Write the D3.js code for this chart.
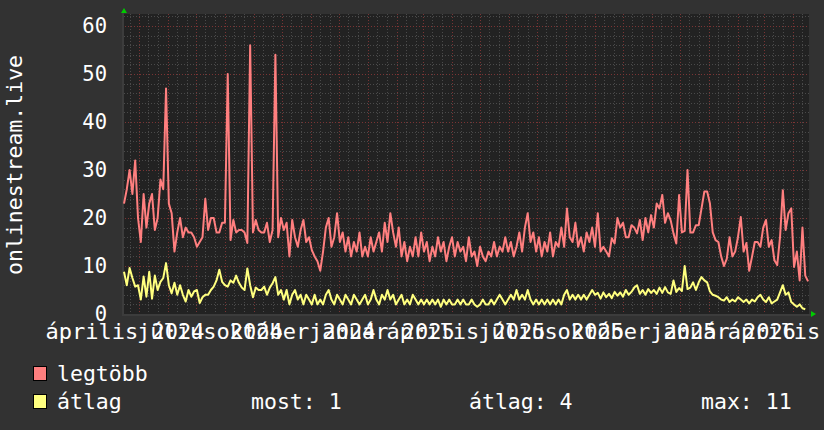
<!DOCTYPE html>
<html><head><meta charset="utf-8">
<script src="https://cdn.jsdelivr.net/npm/d3@7"></script>
<style>body{margin:0;background:#323232;} svg{display:block}</style>
</head><body>
<svg id="c" width="824" height="430"></svg>
<script>
// ---------------- data ----------------
const startDate = new Date(2024, 3, 15);
const endDate = new Date(2026, 3, 18);
const stepDays = 3;
const maxValues = [23,26,30,25,32,20,15,25,18,23,25,17.5,20,28,26,47,23,21,13,17,20,16,18,17,17,16,14,15,16,24,17.5,20,20,17,17,19,19,50,15.4,19.6,17,17.5,17.5,17,14.8,56,17,19.6,17.5,17,17,19,15,17.5,54,16,20,17.5,19,12,19.6,16,14,17.5,19.6,15,16,13.3,12,11,9,
13,18,20,14,16,21,15,17,13,16,12,15,13,17,12,14,12,16,13,15,17,13,19,15,21,17,14,18,12,15,11,14,12,16,12,17,13,15,11,14,12,16,13,15,11,14,16,12,15,13,14,11,16,12,13,10,14,12,11,13,12,15,12,14,13,16,13,15,12,14,17,13,18,21,15,17,13,16,12,15,13,17,12,15,14,18,14,22,16,15,19,14,16,13,17,15,18,14,21,
13,14,13,12,15.8,14.7,20,18,19,16,16,18.5,18,16.8,19.6,15.4,20,17,20.6,18,23,22,24.8,19,21,19.5,16.8,14.7,24.8,17,17.3,30,17,17,18.5,18.5,22,25.5,25.5,23,17,15.4,15,12,10,11.5,16,12,13,16,20.2,13,14.8,9,11.9,15,15,14,18,19.6,14,15.4,11.2,10.2,16,25.8,17.5,21,22,9.8,13,7,18,8,6.8];
const avgValues = [8.8,6,9.6,7.5,5.7,6,3,7.8,3.6,8.8,3.2,8,5,6.7,7.5,10.6,6,4.3,6.5,4,6,4,2.6,5,3.6,4.7,5,2.3,3.5,4,4,5,5.7,7,9.2,6.7,6,5.7,7,6.5,8,6.5,5.5,5,9.5,6,3.5,5.5,5,5,5.7,4,5.5,6.4,7.7,
4,5,3,5,2,4,5,3,4,2,4,3,2,4,2,3,
2,4,5,3,2,4,3,2,4,3,2,4,3,2,3,4,2,3,5,3,2,4,3,5,3,4,2,3,4,2,3,2,4,3,2,3,2,3,2,3,2,3,1.5,3,2,3,2,2,3,2,3,2,2,3,2,1.5,2,3,2,2,3,2,3,4,3,2,3,4,3,5,3,4,3,5,3,2,3,2,3,2,3,2,3,2,3,2,4,5,3,4,3,4,3,4,3,4,5,4,
4.4,3.2,4.5,3.5,4.2,3.3,4.6,3.8,4.5,3.6,5,4,4.6,5.5,6,4.2,5,4,5.2,4.4,5,4.2,5.5,4.4,5.6,4.5,4.2,7,4.6,5.4,4.8,10,5.2,5.5,6.6,5,6.6,7.7,7,6.6,4.7,4,3.8,3.5,3,2.8,3.5,2.5,3,2.6,3.5,3,2.5,3,2.2,3,2.6,3.5,4,3,2.5,3.5,2.2,2.6,3,4.5,6,4,4.5,2.5,2,1.5,2,1.2,1];
const yTicks = [0, 10, 20, 30, 40, 50, 60];
const monthNames = ["január","február","március","április","május","június","július","augusztus","szeptember","október","november","december"];
const labelDates = [new Date(2024,3,1), new Date(2024,6,1), new Date(2024,9,1), new Date(2025,0,1), new Date(2025,3,1), new Date(2025,6,1), new Date(2025,9,1), new Date(2026,0,1), new Date(2026,3,1)];
const seriesNames = ["legtöbb", "átlag"];
const seriesColors = ["#ff7f7f", "#ffff7f"];
const statLabels = ["most: 1", "átlag: 4", "max: 11"];
const yTitle = "onlinestream.live";

// ---------------- drawing ----------------
const svg = d3.select("#c");
const L = 124, R = 809, T = 14, B = 314;
const x = d3.scaleTime().domain([startDate, endDate]).range([L, R]);
const y = d3.scaleLinear().domain([0, 62.5]).range([B, T]);
const dates = maxValues.map((_, i) => d3.timeDay.offset(startDate, i * stepDays));
const font = "'DejaVu Sans Mono', monospace";

svg.append("rect").attr("width", 824).attr("height", 430).attr("fill", "#323232");
svg.append("rect").attr("x", L).attr("y", T).attr("width", R - L).attr("height", B - T).attr("fill", "#222222");

// minor grid
const minorY = d3.range(0, 62.5, 2);
svg.append("g").selectAll("line").data(minorY.filter(v => v % 10 !== 0)).join("line")
  .attr("x1", L).attr("x2", R).attr("y1", d => Math.round(y(d)) + 0.5).attr("y2", d => Math.round(y(d)) + 0.5)
  .attr("stroke", "#4a4a4a").attr("stroke-dasharray", "1,2");
const months = d3.timeMonth.range(startDate, endDate);
const minorX = d3.timeDay.range(startDate, endDate).filter(d => d.getDate() === 11 || d.getDate() === 21);
svg.append("g").selectAll("line").data(minorX).join("line")
  .attr("x1", d => Math.round(x(d)) + 0.5).attr("x2", d => Math.round(x(d)) + 0.5).attr("y1", T).attr("y2", B)
  .attr("stroke", "#4a4a4a").attr("stroke-dasharray", "1,2");
// major grid
svg.append("g").selectAll("line").data(yTicks.filter(v => v > 0)).join("line")
  .attr("x1", L - 2).attr("x2", R).attr("y1", d => Math.round(y(d)) + 0.5).attr("y2", d => Math.round(y(d)) + 0.5)
  .attr("stroke", "#7a3434").attr("stroke-dasharray", "1,2");
svg.append("g").selectAll("line").data(months).join("line")
  .attr("x1", d => Math.round(x(d)) + 0.5).attr("x2", d => Math.round(x(d)) + 0.5).attr("y1", T).attr("y2", B + 3)
  .attr("stroke", "#7a3434").attr("stroke-dasharray", "1,2");

// axes
svg.append("line").attr("x1", L - 1).attr("x2", L - 1).attr("y1", B + 2).attr("y2", T - 2).attr("stroke", "#3c3c3c").attr("stroke-width", 2);
svg.append("line").attr("x1", L - 2).attr("x2", R + 2).attr("y1", B + 1).attr("y2", B + 1).attr("stroke", "#3c3c3c").attr("stroke-width", 2);
svg.append("path").attr("d", d3.line()([[L - 3, T - 1], [L + 3, T - 1], [L, T - 6]])).attr("fill", "#00cc00");
svg.append("path").attr("d", d3.line()([[R + 2, B - 3], [R + 2, B + 3], [R + 7, B]])).attr("fill", "#00cc00");

// y labels
svg.append("g").selectAll("text").data(yTicks).join("text")
  .attr("x", 107).attr("y", d => y(d) + 7).attr("text-anchor", "end")
  .attr("font-family", font).attr("font-size", 20.5).attr("fill", "#ffffff").text(d => d);
svg.append("text").attr("transform", "translate(22,165) rotate(-90)").attr("text-anchor", "middle")
  .attr("font-family", font).attr("font-size", 21.5).attr("fill", "#ffffff").text(yTitle);

// x labels: "%B %Y", centred half a month after each quarterly tick
const xl = svg.append("g").attr("font-family", font).attr("font-size", 22).attr("fill", "#ffffff");
xl.selectAll("text").data(labelDates).join("text")
  .attr("x", d => x(d3.timeDay.offset(d, 15))).attr("y", 339).attr("text-anchor", "middle")
  .text(d => monthNames[d.getMonth()] + " " + d.getFullYear());

// series
const line = d3.line().x((d, i) => x(dates[i])).y(d => y(d));
svg.append("path").datum(maxValues).attr("d", line).attr("fill", "none").attr("stroke", seriesColors[0]).attr("stroke-width", 2).attr("stroke-linejoin", "round");
svg.append("path").datum(avgValues).attr("d", line).attr("fill", "none").attr("stroke", seriesColors[1]).attr("stroke-width", 2).attr("stroke-linejoin", "round");

// legend
const lg = svg.append("g").attr("font-family", font).attr("font-size", 21.5).attr("fill", "#ffffff");
seriesNames.forEach((n, i) => {
  lg.append("rect").attr("x", 33.5).attr("y", 366.5 + i * 28).attr("width", 13).attr("height", 14)
    .attr("fill", seriesColors[i]).attr("stroke", "#000");
  lg.append("text").attr("x", 57).attr("y", 381 + i * 28).text(n);
});
[251, 469, 701].forEach((px, i) => lg.append("text").attr("x", px).attr("y", 409).text(statLabels[i]));
</script>
</body></html>
